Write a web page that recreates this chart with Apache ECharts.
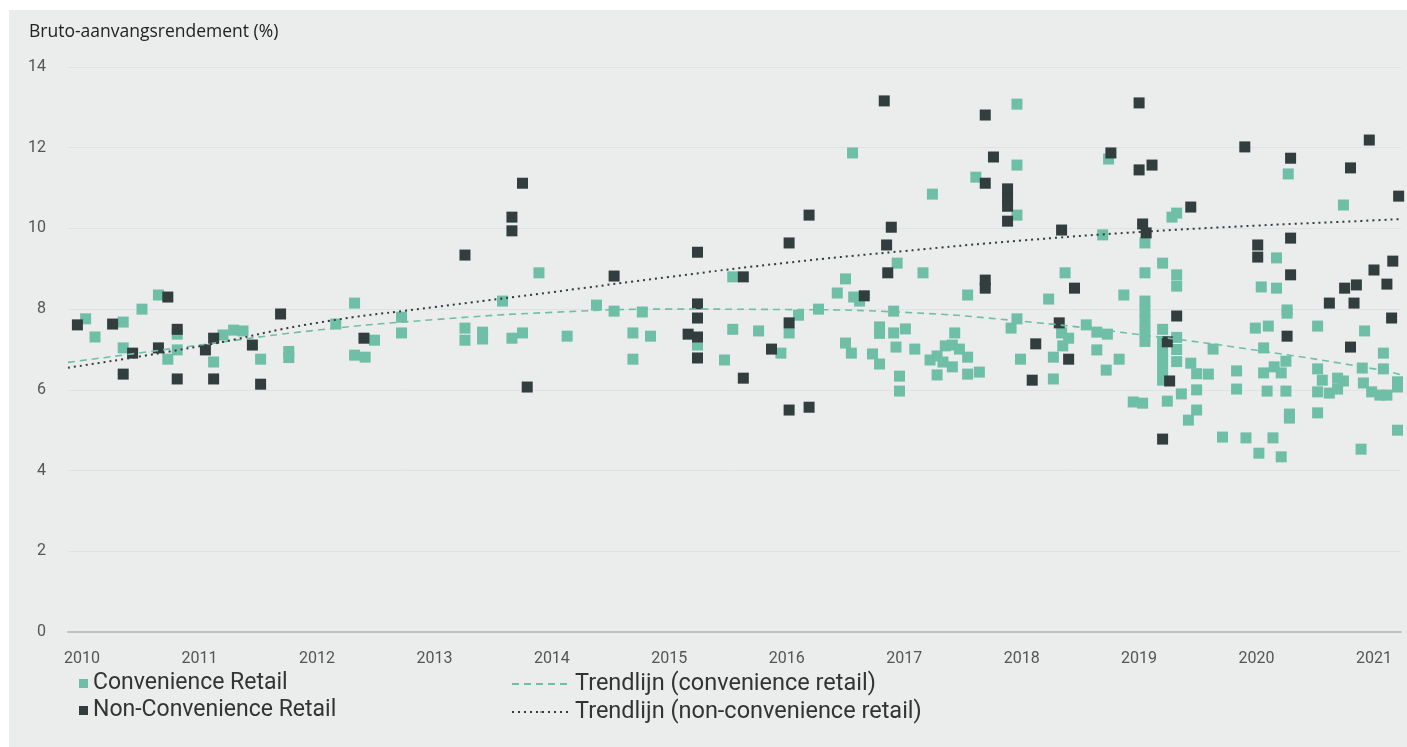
<!DOCTYPE html>
<html>
<head>
<meta charset="utf-8">
<script src="https://cdn.jsdelivr.net/npm/echarts@6/dist/echarts.min.js"></script>
<style>
html,body{margin:0;padding:0;background:#ffffff;}
#chart{width:1407px;height:747px;}
</style>
</head>
<body>
<div id="chart"></div>
<script>
const yearTicks = [2010,2011,2012,2013,2014,2015,2016,2017,2018,2019,2020,2021];

const convenienceRetail = [
[2010.03,7.76],[2010.11,7.31],[2010.35,7.68],[2010.51,8.0],[2010.65,8.35],[2010.35,7.04],[2010.73,6.76],[2010.81,7.38],[2010.81,6.99],
[2011.12,6.69],[2011.20,7.36],[2011.29,7.48],[2011.37,7.46],[2011.52,6.76],[2011.76,6.95],[2011.76,6.8],
[2012.16,7.63],[2012.32,8.15],[2012.49,7.23],[2012.32,6.86],[2012.41,6.81],[2012.72,7.8],[2012.72,7.41],
[2013.26,7.53],[2013.26,7.23],[2013.41,7.43],[2013.41,7.26],[2013.58,8.2],[2013.66,7.28],[2013.75,7.41],[2013.89,8.9],
[2014.13,7.33],[2014.38,8.1],[2014.53,7.95],[2014.69,7.41],[2014.69,6.76],[2014.77,7.93],[2014.84,7.33],
[2015.24,7.11],[2015.47,6.74],[2015.54,8.8],[2015.54,7.5],[2015.76,7.46],[2015.95,6.91],
[2016.02,7.41],[2016.10,7.85],[2016.27,8.0],[2016.43,8.4],[2016.50,8.75],[2016.56,11.87],[2016.57,8.3],[2016.62,8.2],[2016.50,7.16],[2016.55,6.91],[2016.73,6.89],[2016.79,7.56],[2016.79,7.4],[2016.79,6.64],[2016.94,9.14],[2016.91,7.95],[2016.91,7.41],[2017.01,7.51],[2016.93,7.06],[2016.96,6.34],[2016.96,5.97],
[2017.16,8.9],[2017.09,7.01],[2017.24,10.85],[2017.22,6.74],[2017.28,6.84],[2017.28,6.37],[2017.35,7.09],[2017.41,7.11],[2017.43,7.41],[2017.33,6.69],[2017.41,6.57],[2017.47,7.01],[2017.54,6.81],[2017.54,6.39],[2017.64,6.44],[2017.54,8.35],[2017.61,11.27],
[2017.96,13.08],[2017.96,11.57],[2017.96,10.33],[2018.37,8.9],[2018.23,8.25],[2017.91,7.53],[2017.96,7.76],[2017.99,6.76],[2018.27,6.27],[2018.27,6.81],[2018.34,7.41],[2018.40,7.28],[2018.35,7.09],[2018.55,7.61],[2018.64,7.43],[2018.73,7.38],[2018.64,6.99],[2018.72,6.49],[2018.83,6.76],[2018.87,8.35],[2018.69,9.84],[2018.74,11.72],
[2019.05,9.64],[2019.05,8.9],[2019.20,9.14],[2019.32,8.85],[2019.32,8.57],[2019.28,10.28],[2019.32,10.38],
[2019.05,8.2],[2019.05,7.95],[2019.05,7.7],[2019.05,7.45],[2019.05,7.2],
[2019.20,7.5],[2019.20,7.2],[2019.20,6.95],[2019.20,6.7],[2019.20,6.45],[2019.20,6.24],
[2019.32,7.3],[2019.32,7.0],[2019.32,6.7],
[2019.24,5.72],[2019.36,5.9],[2018.95,5.7],[2019.03,5.67],[2019.44,6.66],[2019.49,6.4],[2019.49,6.0],[2019.42,5.25],[2019.49,5.5],[2019.59,6.39],[2019.63,7.01],[2019.71,4.83],[2019.83,6.47],[2019.83,6.02],[2019.91,4.81],[2019.99,7.53],
[2020.02,4.43],[2020.04,8.55],[2020.06,7.04],[2020.06,6.42],[2020.09,5.97],[2020.10,7.58],[2020.14,4.81],[2020.15,6.57],[2020.17,9.27],[2020.17,8.52],[2020.21,6.42],[2020.21,4.34],[2020.25,6.71],[2020.25,5.97],[2020.26,7.98],[2020.26,7.9],[2020.27,11.35],[2020.28,5.4],[2020.28,5.3],
[2020.52,7.58],[2020.52,6.52],[2020.56,6.24],[2020.69,6.29],[2020.74,6.22],[2020.52,5.95],[2020.62,5.92],[2020.69,6.02],[2020.52,5.43],[2020.74,10.58],[2020.92,7.46],[2020.90,6.54],[2021.08,6.52],[2021.08,6.91],[2020.91,6.17],[2020.98,5.95],[2021.05,5.87],[2021.11,5.87],[2021.20,6.07],[2021.20,6.2],[2020.89,4.53],[2021.20,5.0]
];

const nonConvenienceRetail = [
[2009.96,7.61],[2010.26,7.63],[2010.73,8.3],[2010.43,6.91],[2010.35,6.39],[2010.65,7.04],[2010.81,7.5],[2010.81,6.27],
[2011.05,6.99],[2011.12,7.28],[2011.12,6.27],[2011.45,7.11],[2011.52,6.14],[2011.69,7.88],
[2012.40,7.28],[2013.26,9.34],[2013.66,10.28],[2013.66,9.94],[2013.75,11.12],[2013.79,6.07],
[2014.53,8.82],[2015.24,9.41],[2015.24,8.13],[2015.24,7.78],[2015.16,7.38],[2015.24,7.31],[2015.24,6.79],[2015.63,8.8],[2015.63,6.29],[2015.87,7.01],
[2016.02,9.64],[2016.02,7.66],[2016.19,10.33],[2016.02,5.5],[2016.19,5.57],[2016.66,8.33],[2016.83,13.16],[2016.89,10.03],[2016.85,9.59],[2016.86,8.9],
[2017.69,12.81],[2017.69,11.12],[2017.69,8.72],[2017.69,8.52],[2017.76,11.77],[2017.88,10.98],[2017.88,10.75],[2017.88,10.55],[2017.88,10.18],
[2018.34,9.96],[2018.45,8.52],[2018.12,7.14],[2018.09,6.24],[2018.32,7.66],[2018.40,6.76],[2018.76,11.87],
[2019.00,13.11],[2019.00,11.45],[2019.11,11.57],[2019.03,10.11],[2019.06,9.89],[2019.24,7.19],[2019.32,7.83],[2019.26,6.22],[2019.20,4.78],[2019.44,10.53],
[2019.90,12.02],[2020.29,11.74],[2020.96,12.19],[2020.80,11.5],[2021.21,10.8],[2020.29,9.76],[2020.01,9.59],[2020.01,9.29],[2020.29,8.85],
[2020.62,8.15],[2020.75,8.52],[2020.85,8.6],[2020.83,8.15],[2021.00,8.97],[2021.16,9.19],[2021.11,8.62],[2021.15,7.78],[2020.26,7.33],[2020.80,7.06]
];

const trendConvenience = [
[2009.88,6.68],[2011,7.11],[2012,7.48],[2013,7.74],[2014,7.92],[2015,8.0],[2016,7.99],[2017,7.92],[2018,7.7],[2019,7.37],[2020,6.98],[2021,6.52],[2021.22,6.38]
];
const trendNonConvenience = [
[2009.88,6.55],[2011,7.08],[2012,7.66],[2013,8.05],[2014,8.42],[2015,8.8],[2016,9.15],[2017,9.44],[2018,9.7],[2019,9.91],[2020,10.07],[2021,10.2],[2021.22,10.23]
];

const names = ['Convenience Retail','Non-Convenience Retail','Trendlijn (convenience retail)','Trendlijn (non-convenience retail)'];
const TEAL = '#6fbfa6';
const DARK = '#323d3d';
const FONT = 'Roboto, "Noto Sans", sans-serif';

const chart = echarts.init(document.getElementById('chart'));
chart.setOption({
  animation: false,
  backgroundColor: '#ebecec',
  textStyle: {fontFamily: FONT},
  graphic: [
    {type: 'rect', left: 0, top: 0, shape: {width: 1407, height: 10}, style: {fill: '#ffffff'}, silent: true, z: -10},
    {type: 'rect', left: 0, top: 0, shape: {width: 9, height: 747}, style: {fill: '#ffffff'}, silent: true, z: -10}
  ],
  title: {
    text: 'Bruto-aanvangsrendement (%)',
    left: 24, top: 18,
    textStyle: {fontSize: 17.5, fontWeight: 'normal', color: '#222', fontFamily: '"Open Sans", sans-serif'}
  },
  grid: {left: 68, right: 6, top: 67, bottom: 115, containLabel: false},
  legend: [
    {
      data: [names[0], names[1]],
      orient: 'vertical', left: 74, top: 667,
      itemWidth: 9, itemHeight: 9, itemGap: 4, icon: 'rect',
      textStyle: {fontSize: 23, color: '#333', fontFamily: FONT}
    },
    {
      data: [names[2], names[3]],
      orient: 'vertical', left: 506, top: 667,
      itemWidth: 58, itemHeight: 2, itemGap: 4,
      textStyle: {fontSize: 23.5, color: '#333', fontFamily: FONT}
    }
  ],
  xAxis: {
    type: 'value', min: 2009.88, max: 2021.23,
    axisLine: {show: true, lineStyle: {color: '#bfc0c0', width: 2}},
    axisTick: {show: false},
    splitLine: {show: false},
    axisLabel: {
      customValues: yearTicks,
      formatter: v => String(Math.round(v)),
      fontSize: 16, color: '#555', margin: 19, fontFamily: FONT
    }
  },
  yAxis: {
    type: 'value', min: 0, max: 14, interval: 2,
    axisLine: {show: false}, axisTick: {show: false},
    splitLine: {lineStyle: {color: '#dfe2e5', width: 1}},
    axisLabel: {fontSize: 16, color: '#555', margin: 22, fontFamily: FONT}
  },
  series: [
    {
      name: names[0], type: 'scatter', symbol: 'rect', symbolSize: 11,
      itemStyle: {color: TEAL, opacity: 1}, data: convenienceRetail, z: 2
    },
    {
      name: names[1], type: 'scatter', symbol: 'rect', symbolSize: 11,
      itemStyle: {color: DARK, opacity: 1}, data: nonConvenienceRetail, z: 3
    },
    {
      name: names[2], type: 'line', smooth: true, symbol: 'none', showSymbol: false,
      lineStyle: {color: TEAL, width: 1.6, type: [7, 5]}, itemStyle: {color: TEAL},
      data: trendConvenience, z: 4
    },
    {
      name: names[3], type: 'line', smooth: true, symbol: 'none', showSymbol: false,
      lineStyle: {color: DARK, width: 2, type: [2, 4]}, itemStyle: {color: DARK},
      data: trendNonConvenience, z: 4
    }
  ]
});
</script>
</body>
</html>
